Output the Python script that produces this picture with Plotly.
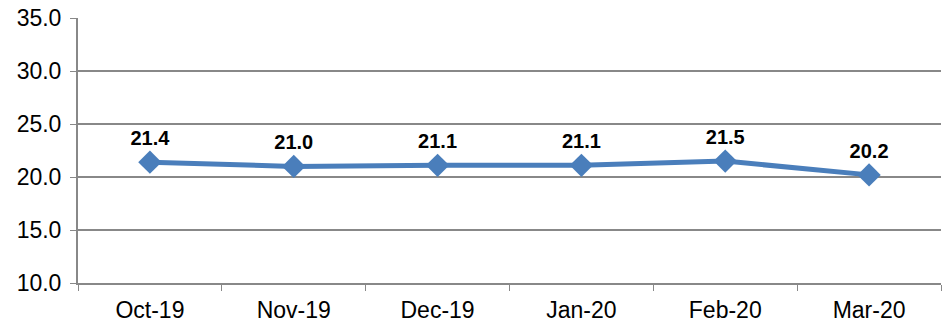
import plotly.graph_objects as go

months = ["Oct-19", "Nov-19", "Dec-19", "Jan-20", "Feb-20", "Mar-20"]
values = [21.4, 21.0, 21.1, 21.1, 21.5, 20.2]
y_ticks = [10, 15, 20, 25, 30, 35]

fig = go.Figure()
fig.add_trace(go.Scatter(
    x=months, y=values, mode="lines+markers+text",
    line=dict(color="#4A7EBB", width=5),
    marker=dict(symbol="diamond", size=18, color="#4A7EBB"),
    text=[f"{v:.1f}" for v in values],
    textposition="top center",
    textfont=dict(family="Liberation Sans, Arial", size=20, color="black", weight="bold"),
    cliponaxis=False,
    showlegend=False,
))

fig.update_layout(
    width=950, height=325,
    margin=dict(l=78, r=9, t=18, b=42, autoexpand=False),
    plot_bgcolor="white", paper_bgcolor="white",
    font=dict(family="Liberation Sans, Arial", size=23, color="black"),
    xaxis=dict(
        type="category", range=[-0.5, len(months) - 0.5],
        tickson="boundaries", ticks="outside", ticklen=6,
        tickcolor="#888888", showline=True, linecolor="#888888", linewidth=2,
        showgrid=False, tickfont=dict(size=23), ticklabelstandoff=5,
    ),
    yaxis=dict(
        range=[10, 35], tickvals=y_ticks, ticktext=[f"{t:.1f}" for t in y_ticks],
        ticks="outside", ticklen=6, tickcolor="#888888",
        showline=True, linecolor="#888888", linewidth=2,
        showgrid=True, gridcolor="#888888", gridwidth=2,
        zeroline=False, tickfont=dict(size=23), ticklabelstandoff=4,
    ),
)

fig.write_html("out.html", post_script="document.body.style.margin='0';",
               config={"displayModeBar": False})
